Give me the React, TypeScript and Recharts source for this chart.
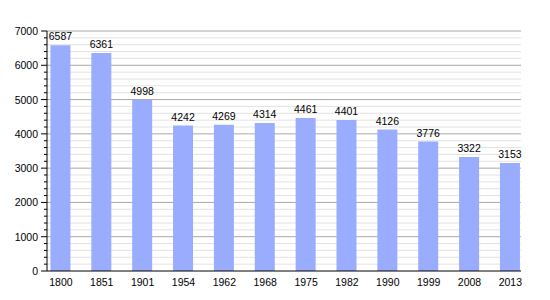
import { BarChart, Bar, XAxis, YAxis, CartesianGrid, LabelList } from "recharts";

const years = ["1800", "1851", "1901", "1954", "1962", "1968", "1975", "1982", "1990", "1999", "2008", "2013"];
const population = [6587, 6361, 4998, 4242, 4269, 4314, 4461, 4401, 4126, 3776, 3322, 3153];
const majorTicks = [0, 1000, 2000, 3000, 4000, 5000, 6000, 7000];
const minorTicks = [
  200, 400, 600, 800, 1200, 1400, 1600, 1800, 2200, 2400, 2600, 2800,
  3200, 3400, 3600, 3800, 4200, 4400, 4600, 4800, 5200, 5400, 5600, 5800,
  6200, 6400, 6600, 6800,
];

const data = years.map((year, i) => ({ idx: i, year, value: population[i] }));
const allTicks = [...majorTicks, ...minorTicks].sort((a, b) => a - b);
const FONT = "'Liberation Sans', Arial, sans-serif";

function YTick(props: any) {
  const { x, y, payload } = props;
  const major = payload.value % 1000 === 0;
  return (
    <g>
      <line x1={x - (major ? 6 : 3)} x2={x} y1={y} y2={y} stroke="#000" strokeWidth={1} />
      {major && (
        <text x={x - 9} y={y} dy={4} textAnchor="end" fontSize={10.5} fill="#000" fontFamily={FONT}>
          {payload.value}
        </text>
      )}
    </g>
  );
}

// grid line colour depends on whether the tick is a thousand
function GridLine(props: any) {
  const { x1, x2, y1, y2, index } = props;
  const v = allTicks[index];
  if (v === 0) return <g />;
  const major = v % 1000 === 0;
  return <line x1={x1} x2={x2} y1={y1} y2={y2} stroke={major ? "#a8a8a8" : "#e2e2e2"} strokeWidth={1} />;
}

export default function App() {
  return (
    <div style={{ width: 540, height: 290, fontFamily: FONT }}>
      <BarChart width={540} height={290} data={data} margin={{ top: 23, right: 27, left: 0, bottom: 0 }}>
        <CartesianGrid vertical={false} horizontal={(p: any) => <GridLine key={p.key} {...p} />} />
        <XAxis
          dataKey="idx"
          type="number"
          domain={[-0.34, 11.26]}
          ticks={years.map((_, i) => i)}
          tickFormatter={(i: number) => years[i]}
          allowDataOverflow
          height={27}
          tickLine={false}
          tickSize={0}
          tickMargin={8}
          axisLine={{ stroke: "#000" }}
          tick={{ fontSize: 10.5, fill: "#000", fontFamily: FONT }}
        />
        <YAxis
          width={39}
          domain={[0, 7000]}
          ticks={allTicks}
          interval={0}
          tickLine={false}
          tickSize={0}
          tickMargin={0}
          axisLine={{ stroke: "#000" }}
          tick={<YTick />}
        />
        <Bar dataKey="value" fill="#9aacfd" barSize={20} isAnimationActive={false}>
          <LabelList dataKey="value" position="top" offset={5} fontSize={10.5} fill="#000" fontFamily={FONT} />
        </Bar>
      </BarChart>
    </div>
  );
}
